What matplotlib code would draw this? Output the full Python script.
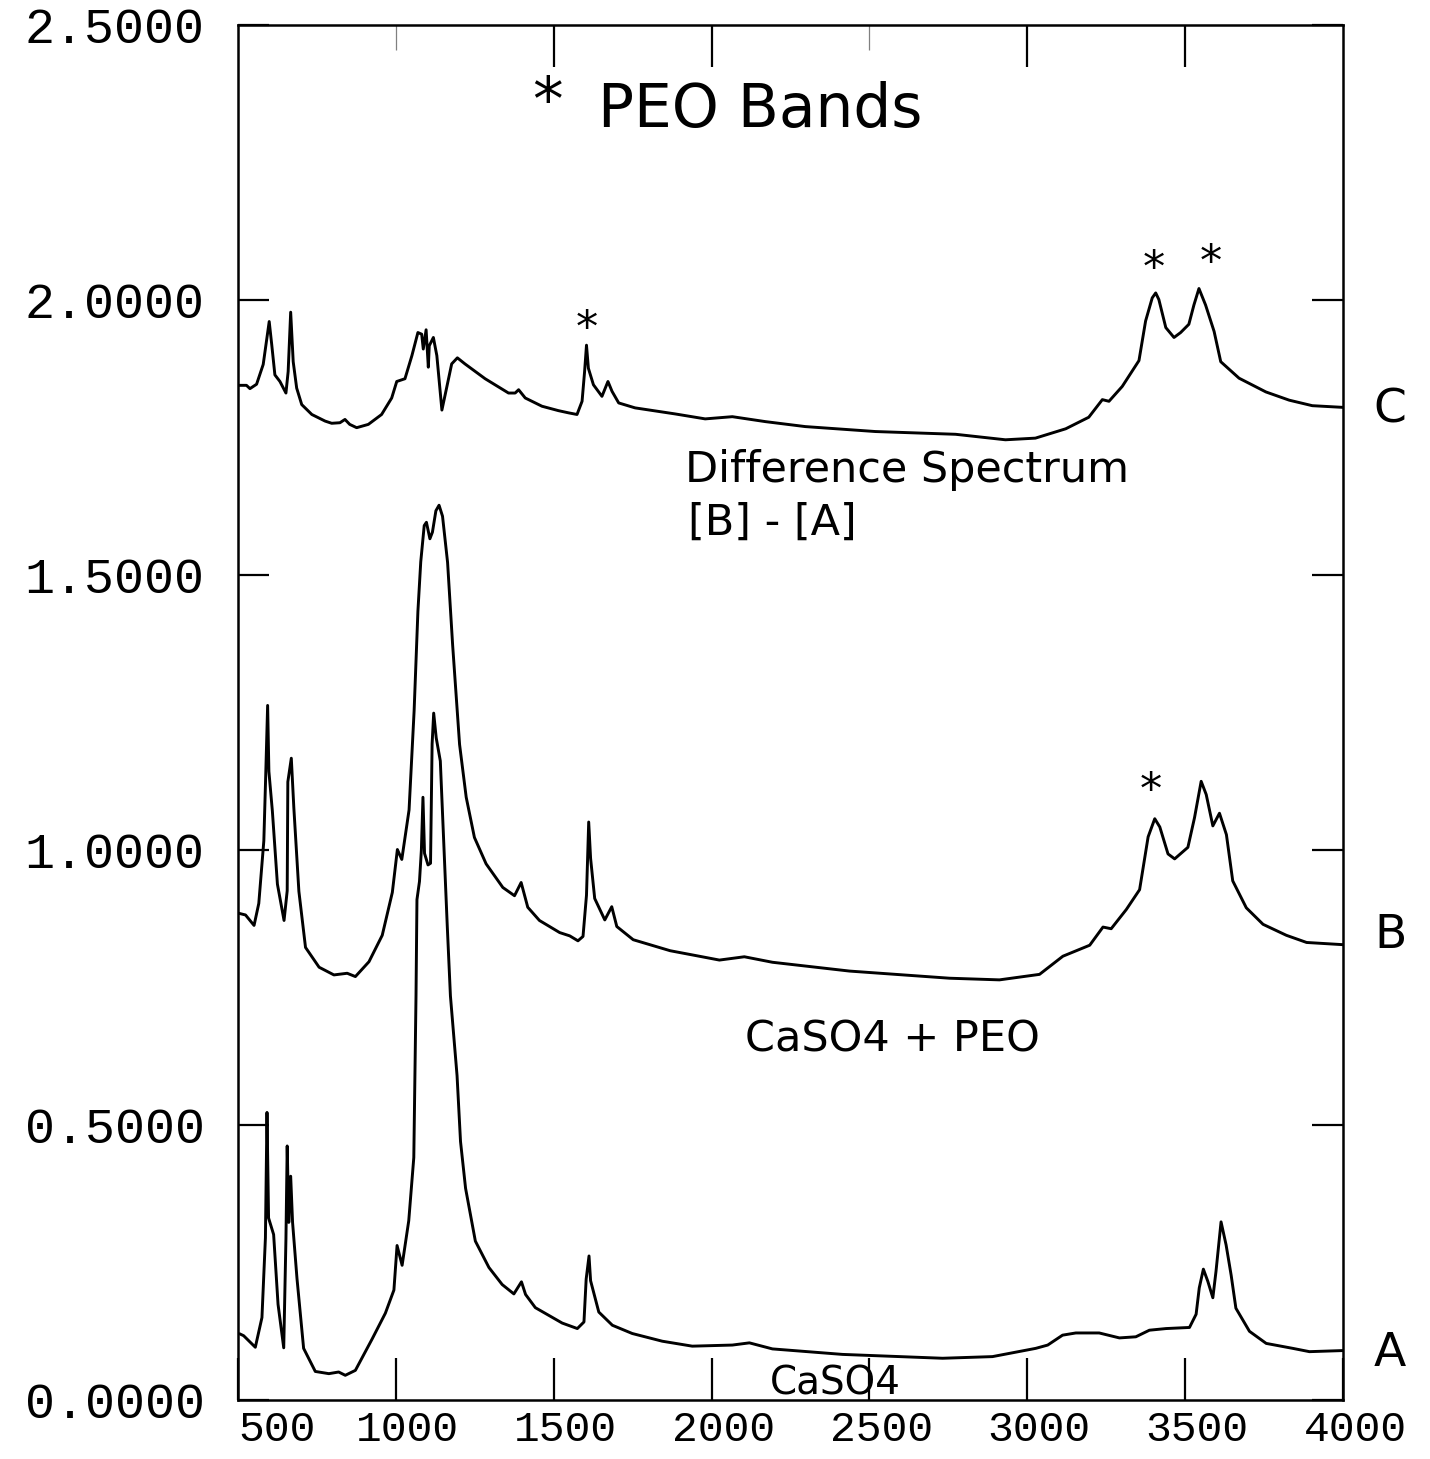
import matplotlib
matplotlib.use("Agg")
import matplotlib.pyplot as plt
import matplotlib.transforms as mtransforms

# Infrared spectra: wavenumber (cm-1) vs absorbance

# A: CaSO4
wn_a = [507, 518, 555, 576, 587, 592, 597, 613, 627, 645, 652, 656, 661, 667, 673,
        687, 708, 745, 788, 819, 840, 872, 925, 967, 994, 1004, 1020, 1041, 1057,
        1064, 1067, 1075, 1081, 1086, 1091, 1102, 1110, 1115, 1120, 1128, 1141,
        1152, 1163, 1173, 1194, 1205, 1221, 1252, 1295, 1337, 1374, 1398, 1411,
        1442, 1527, 1575, 1596, 1603, 1612, 1617, 1643, 1686, 1749, 1844, 1939,
        2066, 2120, 2193, 2415, 2732, 2890, 3027, 3065, 3112, 3154, 3228, 3292,
        3344, 3387, 3440, 3514, 3535, 3545, 3558, 3572, 3588, 3598, 3614, 3630,
        3646, 3661, 3704, 3757, 3841, 3894, 4000]
abs_a = [0.120, 0.117, 0.096, 0.150, 0.295, 0.523, 0.331, 0.301, 0.174, 0.095,
         0.293, 0.462, 0.323, 0.407, 0.323, 0.221, 0.094, 0.052, 0.048, 0.051,
         0.045, 0.054, 0.111, 0.158, 0.200, 0.281, 0.245, 0.326, 0.441, 0.735,
         0.910, 0.943, 1.000, 1.096, 0.994, 0.973, 0.976, 1.193, 1.249, 1.204,
         1.162, 1.012, 0.862, 0.735, 0.590, 0.470, 0.385, 0.289, 0.241, 0.210,
         0.193, 0.215, 0.192, 0.168, 0.140, 0.130, 0.142, 0.220, 0.262, 0.217,
         0.160, 0.136, 0.121, 0.107, 0.098, 0.100, 0.104, 0.093, 0.083, 0.076,
         0.079, 0.094, 0.100, 0.118, 0.122, 0.122, 0.113, 0.115, 0.127, 0.130,
         0.132, 0.156, 0.204, 0.238, 0.216, 0.186, 0.234, 0.324, 0.282, 0.227,
         0.167, 0.125, 0.103, 0.094, 0.088, 0.090]

# B: CaSO4 + PEO
wn_b = [503, 524, 551, 566, 582, 588, 594, 598, 609, 625, 646, 656, 658, 669, 677,
        693, 714, 757, 804, 846, 872, 915, 957, 989, 1005, 1019, 1042, 1058, 1070,
        1079, 1090, 1097, 1108, 1116, 1127, 1137, 1148, 1164, 1180, 1202, 1223,
        1249, 1286, 1339, 1376, 1397, 1418, 1455, 1519, 1551, 1577, 1593, 1604,
        1611, 1617, 1630, 1662, 1684, 1700, 1752, 1869, 1961, 2025, 2104, 2193,
        2437, 2754, 2912, 3039, 3113, 3198, 3240, 3266, 3314, 3356, 3383, 3404,
        3420, 3446, 3467, 3509, 3530, 3551, 3567, 3588, 3609, 3631, 3651, 3694,
        3747, 3821, 3885, 4000]
abs_b = [0.885, 0.882, 0.863, 0.903, 1.017, 1.137, 1.263, 1.143, 1.071, 0.938,
         0.872, 0.926, 1.124, 1.167, 1.077, 0.925, 0.823, 0.787, 0.773, 0.776,
         0.770, 0.797, 0.845, 0.923, 1.001, 0.983, 1.073, 1.253, 1.434, 1.524,
         1.590, 1.596, 1.566, 1.578, 1.617, 1.627, 1.607, 1.523, 1.373, 1.192,
         1.096, 1.023, 0.975, 0.932, 0.917, 0.941, 0.896, 0.872, 0.850, 0.844,
         0.835, 0.843, 0.918, 1.051, 0.985, 0.912, 0.873, 0.897, 0.861, 0.837,
         0.817, 0.807, 0.800, 0.806, 0.796, 0.780, 0.767, 0.764, 0.774, 0.807,
         0.827, 0.860, 0.857, 0.892, 0.928, 1.024, 1.057, 1.042, 0.993, 0.984,
         1.005, 1.059, 1.125, 1.101, 1.044, 1.067, 1.028, 0.944, 0.895, 0.865,
         0.845, 0.832, 0.828]

# C: difference spectrum [B] - [A]
wn_c = [501, 527, 538, 559, 580, 599, 607, 617, 633, 652, 659, 667, 675, 686, 702,
        734, 776, 797, 823, 839, 854, 876, 913, 955, 987, 1003, 1029, 1051, 1070,
        1082, 1087, 1096, 1103, 1106, 1119, 1130, 1146, 1156, 1177, 1195, 1219,
        1283, 1357, 1378, 1389, 1410, 1463, 1515, 1547, 1574, 1590, 1598, 1604,
        1610, 1626, 1653, 1672, 1685, 1706, 1758, 1885, 1980, 2066, 2171, 2297,
        2519, 2773, 2931, 3026, 3122, 3195, 3238, 3259, 3301, 3354, 3375, 3396,
        3407, 3417, 3439, 3465, 3486, 3512, 3528, 3544, 3565, 3592, 3613, 3671,
        3756, 3830, 3903, 3998]
abs_c = [1.845, 1.845, 1.839, 1.847, 1.883, 1.961, 1.919, 1.864, 1.852, 1.831,
         1.870, 1.978, 1.888, 1.840, 1.810, 1.792, 1.780, 1.776, 1.777, 1.783,
         1.774, 1.768, 1.774, 1.792, 1.822, 1.852, 1.857, 1.899, 1.941, 1.938,
         1.911, 1.946, 1.878, 1.917, 1.932, 1.899, 1.800, 1.827, 1.884, 1.895,
         1.884, 1.857, 1.831, 1.831, 1.837, 1.822, 1.807, 1.799, 1.795, 1.792,
         1.816, 1.870, 1.918, 1.876, 1.846, 1.825, 1.852, 1.834, 1.813, 1.804,
         1.793, 1.784, 1.788, 1.779, 1.770, 1.761, 1.756, 1.746, 1.749, 1.766,
         1.787, 1.819, 1.816, 1.843, 1.890, 1.962, 2.004, 2.013, 2.001, 1.950,
         1.932, 1.941, 1.956, 1.991, 2.021, 1.991, 1.943, 1.888, 1.858, 1.833,
         1.818, 1.808, 1.805]

x_ticks = [500, 1000, 1500, 2000, 2500, 3000, 3500, 4000]
x_tick_labels = ["500", "1000", "1500", "2000", "2500", "3000", "3500", "4000"]
top_ticks_solid = [1500, 2000, 3000, 3500]
top_ticks_faint = [1000, 2500]
y_ticks = [0.0, 0.5, 1.0, 1.5, 2.0, 2.5]
y_tick_labels = ["0.0000", "0.5000", "1.0000", "1.5000", "2.0000", "2.5000"]

fig = plt.figure(figsize=(14.3, 14.59), dpi=100)
ax = fig.add_axes([0.1664, 0.0404, 0.7727, 0.9424])

for wn, ab in ((wn_a, abs_a), (wn_b, abs_b), (wn_c, abs_c)):
    ax.plot(wn, ab, color="black", lw=2.1, solid_joinstyle="round")

ax.set_xlim(500, 4000)
ax.set_ylim(0, 2.5)

mono = "Liberation Mono"
ax.set_xticks(x_ticks)
ax.set_xticklabels(x_tick_labels, fontfamily=mono, fontsize=31)
ax.set_yticks(y_ticks)
ax.set_yticklabels(y_tick_labels, fontfamily=mono, fontsize=36)

ax.tick_params(axis="both", direction="in", width=1.6,
               top=False, right=True, colors="black")
ax.tick_params(axis="x", length=30, pad=7)
ax.tick_params(axis="y", length=22, pad=24)

# x labels sit a little right of their ticks; the first starts at the frame
xlabels = ax.get_xticklabels()
xlabels[0].set_horizontalalignment("left")
shift = mtransforms.ScaledTranslation(0.12, 0, fig.dpi_scale_trans)
for lab in xlabels[1:]:
    lab.set_transform(lab.get_transform() + shift)

# marks along the top edge: solid ones and two faint short ones
top_solid = ax.secondary_xaxis("top")
top_solid.set_xticks(top_ticks_solid)
top_solid.tick_params(direction="in", length=30, width=1.6, labeltop=False)
top_faint = ax.secondary_xaxis("top")
top_faint.set_xticks(top_ticks_faint)
top_faint.tick_params(direction="in", length=18, width=0.9, color="0.5",
                      labeltop=False)
for sec in (top_solid, top_faint):
    sec.spines["top"].set_visible(False)

for s in ax.spines.values():
    s.set_linewidth(1.8)

hand = dict(fontfamily="DejaVu Sans", color="black")

ax.text(1479, 2.357, "*", fontsize=44, ha="center", va="center", **hand)
ax.text(1640, 2.345, "PEO Bands", fontsize=43, ha="left", va="center", **hand)

ax.text(1604, 1.947, "*", fontsize=32, ha="center", va="center", **hand)
ax.text(3400, 2.056, "*", fontsize=32, ha="center", va="center", **hand)
ax.text(3580, 2.067, "*", fontsize=32, ha="center", va="center", **hand)
ax.text(3390, 1.107, "*", fontsize=32, ha="center", va="center", **hand)

ax.text(1916, 1.691, "Difference Spectrum", fontsize=31, ha="left", va="center", **hand)
ax.text(1925, 1.596, "[B] - [A]", fontsize=31, ha="left", va="center", **hand)
ax.text(2106, 0.655, "CaSO4 + PEO", fontsize=31, ha="left", va="center", **hand)
ax.text(2185, 0.030, "CaSO4", fontsize=28, ha="left", va="center", **hand)

for lab, yv in (("C", 1.80), ("B", 0.845), ("A", 0.085)):
    ax.text(4150, yv, lab, fontsize=34, ha="center", va="center",
            clip_on=False, **hand)

fig.savefig("out.png", dpi=100, facecolor="white")
